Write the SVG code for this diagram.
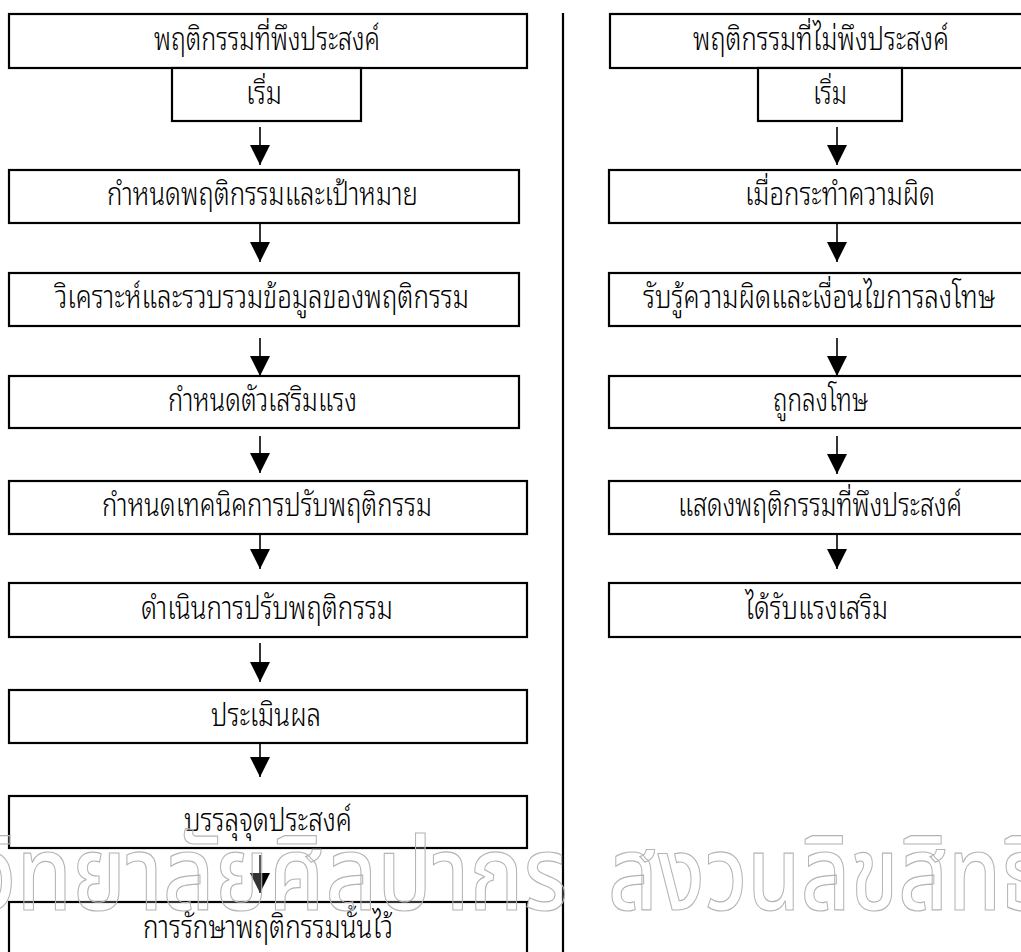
<svg xmlns="http://www.w3.org/2000/svg" width="1021" height="952" viewBox="0 0 1021 952">
<defs>
<marker id="ah" viewBox="0 0 20 20" refX="20" refY="10" markerWidth="20" markerHeight="20" markerUnits="userSpaceOnUse" orient="auto">
<path d="M0,0 L20,10 L0,20 z" fill="#000"/>
</marker>
<style>
.box{fill:#fff;stroke:#000;stroke-width:2.2}
.lbl{font-family:"Noto Sans Thai Looped","Noto Sans Thai","Noto Sans","DejaVu Sans",sans-serif;font-size:31px;font-weight:300;fill:#000}
.arr{stroke:#000;stroke-width:1.6;fill:none;marker-end:url(#ah)}
.wm{font-family:"Noto Sans Thai","Noto Sans Thai Looped","Noto Sans","DejaVu Sans",sans-serif;font-size:104px;font-weight:500;fill:#fff;fill-opacity:0.2;stroke:#b4b4b4;stroke-width:1.2}
</style>
</defs>
<rect width="1021" height="952" fill="#fff"/>
<line x1="563" y1="13" x2="563" y2="952" stroke="#000" stroke-width="2.2"/>
<g id="connectors">
<line class="arr" x1="260" y1="127" x2="260" y2="165"/>
<line class="arr" x1="260" y1="223" x2="260" y2="262"/>
<line class="arr" x1="260" y1="338" x2="260" y2="376"/>
<line class="arr" x1="260" y1="436" x2="260" y2="473"/>
<line class="arr" x1="260" y1="532" x2="260" y2="569"/>
<line class="arr" x1="260" y1="643" x2="260" y2="682"/>
<line class="arr" x1="260" y1="739" x2="260" y2="777"/>
<line class="arr" x1="260" y1="855" x2="260" y2="893"/>
<line class="arr" x1="837" y1="127" x2="837" y2="165"/>
<line class="arr" x1="837" y1="223" x2="837" y2="262"/>
<line class="arr" x1="837" y1="338" x2="837" y2="376"/>
<line class="arr" x1="837" y1="436" x2="837" y2="474"/>
<line class="arr" x1="837" y1="532" x2="837" y2="569"/>
</g>
<g id="L1"><rect class="box" x="9" y="14" width="518" height="54"/><text class="lbl" x="154" y="50" textLength="226" lengthAdjust="spacingAndGlyphs">พฤติกรรมที่พึงประสงค์</text></g>
<g id="L0"><rect class="box" x="172" y="68" width="189" height="53"/><text class="lbl" x="246" y="104" textLength="36" lengthAdjust="spacingAndGlyphs">เริ่ม</text></g>
<g id="L2"><rect class="box" x="9" y="170" width="510" height="53"/><text class="lbl" x="107" y="205" textLength="311" lengthAdjust="spacingAndGlyphs">กำหนดพฤติกรรมและเป้าหมาย</text></g>
<g id="L3"><rect class="box" x="9" y="273" width="510" height="53"/><text class="lbl" x="55" y="308" textLength="414" lengthAdjust="spacingAndGlyphs">วิเคราะห์และรวบรวมข้อมูลของพฤติกรรม</text></g>
<g id="L4"><rect class="box" x="9" y="376" width="510" height="52"/><text class="lbl" x="168" y="411" textLength="189" lengthAdjust="spacingAndGlyphs">กำหนดตัวเสริมแรง</text></g>
<g id="L5"><rect class="box" x="9" y="481" width="518" height="53"/><text class="lbl" x="102" y="516" textLength="330" lengthAdjust="spacingAndGlyphs">กำหนดเทคนิคการปรับพฤติกรรม</text></g>
<g id="L6"><rect class="box" x="9" y="583" width="518" height="54"/><text class="lbl" x="141" y="619" textLength="252" lengthAdjust="spacingAndGlyphs">ดำเนินการปรับพฤติกรรม</text></g>
<g id="L7"><rect class="box" x="9" y="690" width="518" height="53"/><text class="lbl" x="211" y="726" textLength="110" lengthAdjust="spacingAndGlyphs">ประเมินผล</text></g>
<g id="L8"><rect class="box" x="9" y="796" width="518" height="52"/><text class="lbl" x="184" y="831" textLength="168" lengthAdjust="spacingAndGlyphs">บรรลุจุดประสงค์</text></g>
<g id="L9"><rect class="box" x="9" y="902" width="518" height="70"/><text class="lbl" x="143" y="938" textLength="250" lengthAdjust="spacingAndGlyphs">การรักษาพฤติกรรมนั้นไว้</text></g>
<g id="R1"><rect class="box" x="610" y="14" width="430" height="54"/><text class="lbl" x="693" y="50" textLength="256" lengthAdjust="spacingAndGlyphs">พฤติกรรมที่ไม่พึงประสงค์</text></g>
<g id="R0"><rect class="box" x="758" y="68" width="144" height="53"/><text class="lbl" x="813" y="104" textLength="34" lengthAdjust="spacingAndGlyphs">เริ่ม</text></g>
<g id="R2"><rect class="box" x="609" y="170" width="431" height="53"/><text class="lbl" x="745" y="205" textLength="190" lengthAdjust="spacingAndGlyphs">เมื่อกระทำความผิด</text></g>
<g id="R3"><rect class="box" x="609" y="273" width="431" height="53"/><text class="lbl" x="643" y="308" textLength="352" lengthAdjust="spacingAndGlyphs">รับรู้ความผิดและเงื่อนไขการลงโทษ</text></g>
<g id="R4"><rect class="box" x="609" y="376" width="431" height="52"/><text class="lbl" x="773" y="411" textLength="95" lengthAdjust="spacingAndGlyphs">ถูกลงโทษ</text></g>
<g id="R5"><rect class="box" x="609" y="481" width="431" height="53"/><text class="lbl" x="678" y="516" textLength="284" lengthAdjust="spacingAndGlyphs">แสดงพฤติกรรมที่พึงประสงค์</text></g>
<g id="R6"><rect class="box" x="609" y="583" width="431" height="54"/><text class="lbl" x="745" y="619" textLength="143" lengthAdjust="spacingAndGlyphs">ได้รับแรงเสริม</text></g>
<g id="watermark">
<text class="wm" x="-28" y="910" textLength="596" lengthAdjust="spacingAndGlyphs">วิทยาลัยศิลปากร</text>
<text class="wm" x="608" y="910" textLength="440" lengthAdjust="spacingAndGlyphs">สงวนลิขสิทธิ์</text>
</g>
</svg>
